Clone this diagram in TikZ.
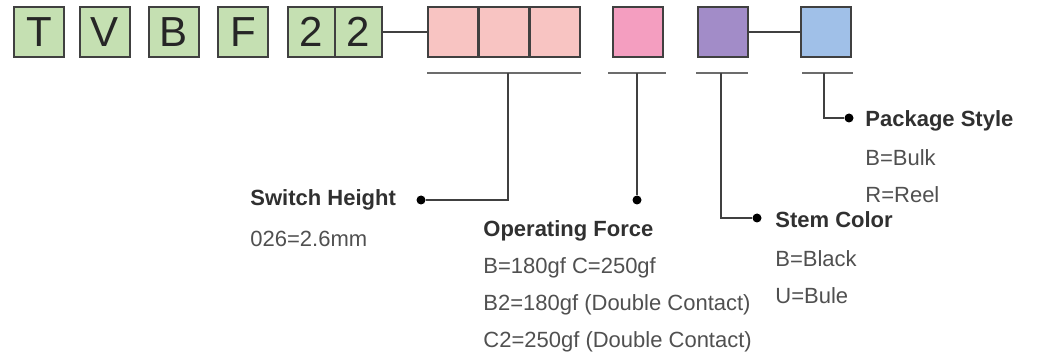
\documentclass[tikz,border=0pt]{standalone}
\usepackage{fontspec}
\setmainfont{Liberation Sans}
\usepackage{tikz}

\definecolor{codegreen}{RGB}{197,224,178}
\definecolor{heightpink}{RGB}{248,196,194}
\definecolor{forcepink}{RGB}{244,158,192}
\definecolor{stempurple}{RGB}{162,140,200}
\definecolor{packblue}{RGB}{160,192,232}
\definecolor{edgegray}{RGB}{64,64,64}
\definecolor{headgray}{RGB}{48,48,48}
\definecolor{valgray}{RGB}{80,80,80}

\tikzset{
  cell/.style={draw=edgegray, line width=1pt, minimum width=25pt, minimum height=25pt,
    inner sep=0pt, font=\fontsize{21}{21}\selectfont, text=black!85},
  uline/.style={draw=gray!85!black, line width=1.4pt},
  lead/.style={draw=black!75, line width=0.8pt},
  dot/.style={circle, fill=black, inner sep=0pt, minimum size=4.5pt},
  head/.style={anchor=west, inner sep=0pt, text=headgray, font=\fontsize{11}{11}\selectfont\bfseries},
  val/.style={anchor=west, inner sep=0pt, text=valgray, font=\fontsize{11}{11}\selectfont}
}

\begin{document}
\begin{tikzpicture}[x=0.5pt,y=-0.5pt]
  \useasboundingbox (0,0) rectangle (1038,363);

  % fixed part of the code
  \node[cell, fill=codegreen] (cT) at (39,32) {T};
  \node[cell, fill=codegreen] (cV) at (104.5,32) {V};
  \node[cell, fill=codegreen] (cB) at (174,32) {B};
  \node[cell, fill=codegreen] (cF) at (243,32) {F};
  \node[cell, fill=codegreen, minimum width=23.5pt] (c2a) at (311.5,32) {2};
  \node[cell, fill=codegreen, minimum width=23.5pt] (c2b) at (358.5,32) {2};

  % variable fields
  \node[cell, fill=heightpink] (h1) at (452.5,32) {};
  \node[cell, fill=heightpink] (h2) at (503.5,32) {};
  \node[cell, fill=heightpink] (h3) at (555,32) {};
  \node[cell, fill=forcepink] (fo) at (638,32) {};
  \node[cell, fill=stempurple] (st) at (722.5,32) {};
  \node[cell, fill=packblue] (pk) at (826,32) {};

  \draw[lead] (c2b.east) -- (h1.west);
  \draw[lead] (st.east) -- (pk.west);

  % underlines
  \draw[uline] (427,73) -- (581,73);
  \draw[uline] (608,73) -- (666,73);
  \draw[uline] (696,73) -- (748,73);
  \draw[uline] (802,73) -- (853,73);

  \coordinate (jh) at (508,73);
  \coordinate (jf) at (637,73);
  \coordinate (js) at (721,73);
  \coordinate (jp) at (824,73);

  % end dots
  \node[dot] (dh) at (421,200) {};
  \node[dot] (df) at (637,200) {};
  \node[dot] (ds) at (757,218) {};
  \node[dot] (dp) at (849,118) {};

  \draw[lead] (jh) |- (dh);
  \draw[lead] (jf) -- (df);
  \draw[lead] (js) |- (ds);
  \draw[lead] (jp) |- (dp);

  % labels
  \node[head] (th) at (250,200) {Switch Height};
  \node[val] (vh) at (250,239) {026=2.6mm};

  \node[head] (tf) at (483,231) {Operating Force};
  \node[val] (vf1) at (483,268) {B=180gf C=250gf};
  \node[val] (vf2) at (483,305) {B2=180gf (Double Contact)};
  \node[val] (vf3) at (483,342) {C2=250gf (Double Contact)};

  \node[head] (ts) at (775,220) {Stem Color};
  \node[val] (vs1) at (775,259) {B=Black};
  \node[val] (vs2) at (775,296) {U=Bule};

  \node[head] (tp) at (865,121) {Package Style};
  \node[val] (vp1) at (865,158) {B=Bulk};
  \node[val] (vp2) at (865,195) {R=Reel};
\end{tikzpicture}
\end{document}
